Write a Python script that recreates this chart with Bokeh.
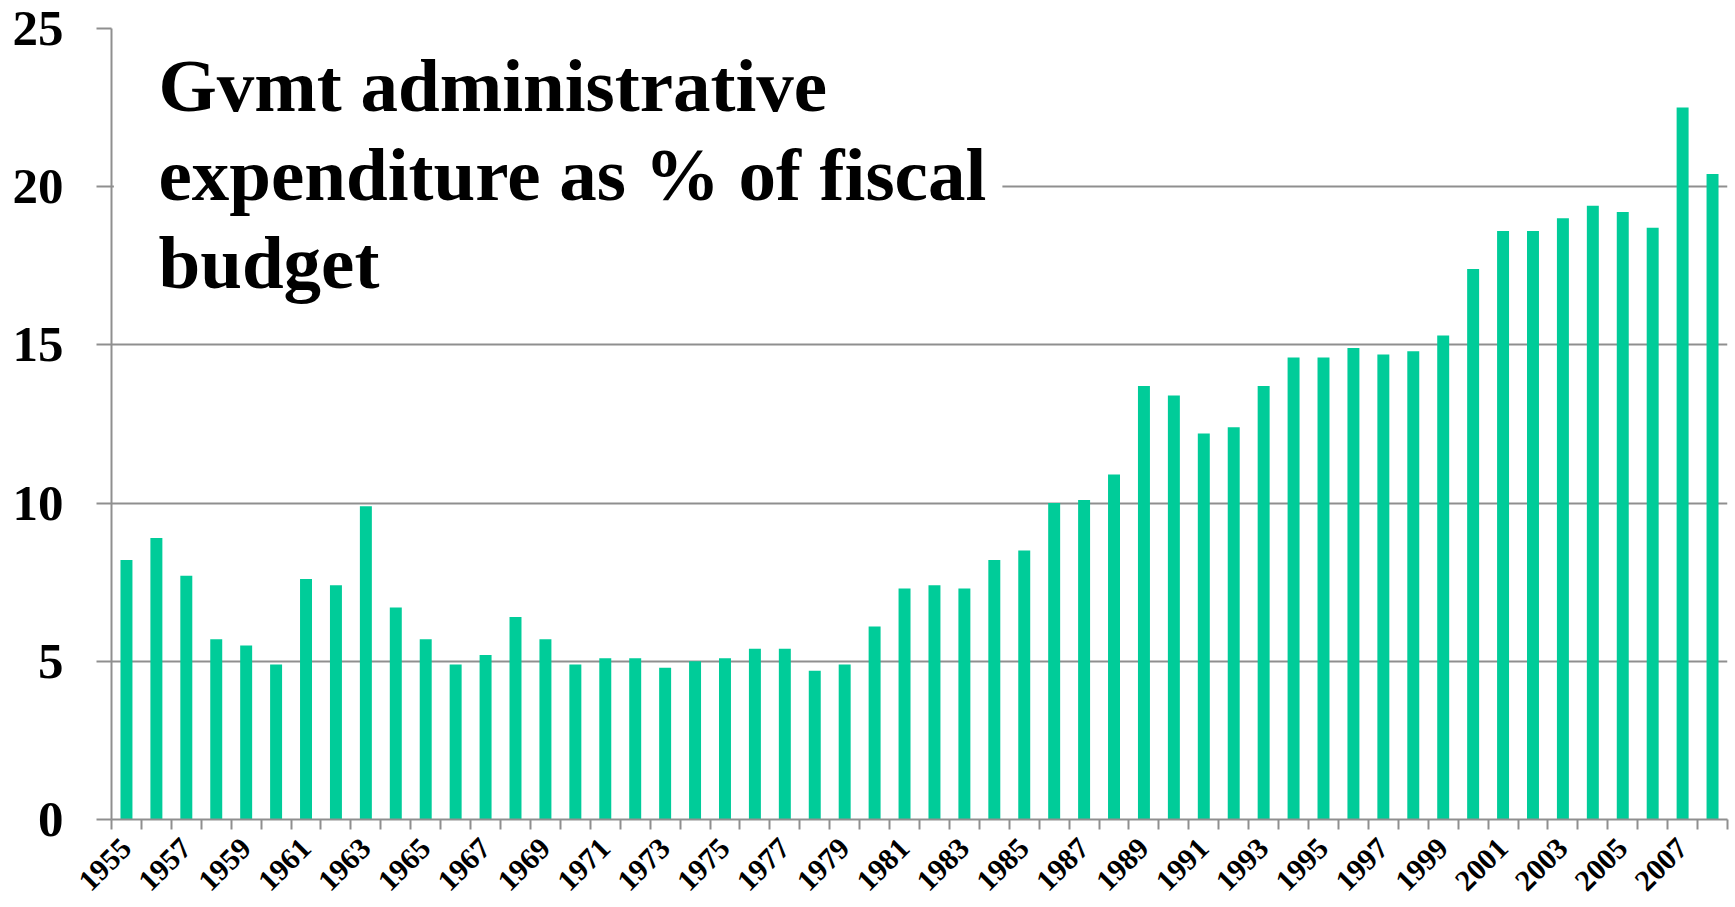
import math
from bokeh.plotting import figure
from bokeh.models import Range1d, FixedTicker, BoxAnnotation, Label
from bokeh.embed import file_html
from bokeh.resources import INLINE

years = list(range(1955, 2009))
values = [8.2, 8.9, 7.7, 5.7, 5.5, 4.9, 7.6, 7.4, 9.9, 6.7,
          5.7, 4.9, 5.2, 6.4, 5.7, 4.9, 5.1, 5.1, 4.8, 5.0,
          5.1, 5.4, 5.4, 4.7, 4.9, 6.1, 7.3, 7.4, 7.3, 8.2,
          8.5, 10.0, 10.1, 10.9, 13.7, 13.4, 12.2, 12.4, 13.7, 14.6,
          14.6, 14.9, 14.7, 14.8, 15.3, 17.4, 18.6, 18.6, 19.0, 19.4,
          19.2, 18.7, 22.5, 20.4]
label_years = [y for y in years if (y - 1955) % 2 == 0]
y_ticks = [0, 5, 10, 15, 20, 25]
title_lines = ["Gvmt administrative", "expenditure as % of fiscal", "budget"]

GRAY = "#8f8f8f"
FONT = "Liberation Serif"

p = figure(width=1735, height=907, output_backend="svg", toolbar_location=None,
           x_range=Range1d(years[0] - 0.5, years[-1] + 0.5), y_range=Range1d(0, 25),
           min_border_left=111, min_border_right=8, min_border_top=28, min_border_bottom=88)
p.background_fill_color = "white"
p.border_fill_color = "white"
p.outline_line_color = None

p.vbar(x=years, top=values, width=0.4, fill_color="#00CC99", line_color=None)

# x axis
xa = p.xaxis[0]
xa.ticker = FixedTicker(ticks=label_years, minor_ticks=[y - 0.5 for y in years] + [years[-1] + 0.5])
xa.major_tick_out = 0
xa.major_tick_in = 0
xa.minor_tick_out = 10
xa.minor_tick_in = 0
xa.minor_tick_line_color = GRAY
xa.minor_tick_line_width = 2
xa.axis_line_color = GRAY
xa.axis_line_width = 2
xa.major_label_orientation = math.pi / 4
xa.major_label_text_font = FONT
xa.major_label_text_font_style = "bold"
xa.major_label_text_font_size = "30px"
xa.major_label_text_color = "black"
xa.major_label_standoff = 14

# y axis
ya = p.yaxis[0]
ya.ticker = FixedTicker(ticks=y_ticks)
ya.major_tick_out = 15
ya.major_tick_in = 0
ya.minor_tick_out = 0
ya.minor_tick_in = 0
ya.major_tick_line_color = GRAY
ya.major_tick_line_width = 2
ya.axis_line_color = GRAY
ya.axis_line_width = 2
ya.major_label_text_font = FONT
ya.major_label_text_font_style = "bold"
ya.major_label_text_font_size = "51px"
ya.major_label_text_color = "black"
ya.major_label_standoff = 33

p.xgrid.grid_line_color = None
p.ygrid.grid_line_color = GRAY
p.ygrid.grid_line_width = 2

# white box behind the title
p.add_layout(BoxAnnotation(left=1954.58, right=1984.27, bottom=16.3, top=24.6,
                           fill_color="white", fill_alpha=1.0, line_color=None))

baselines = [23.19, 20.38, 17.60]
for txt, yb in zip(title_lines, baselines):
    p.add_layout(Label(x=1956.07, y=yb, text=txt, text_font=FONT, text_font_style="bold",
                       text_font_size="75px", text_color="black", text_baseline="alphabetic",
                       text_align="left"))

open("out.html", "w").write(file_html(p, INLINE))
